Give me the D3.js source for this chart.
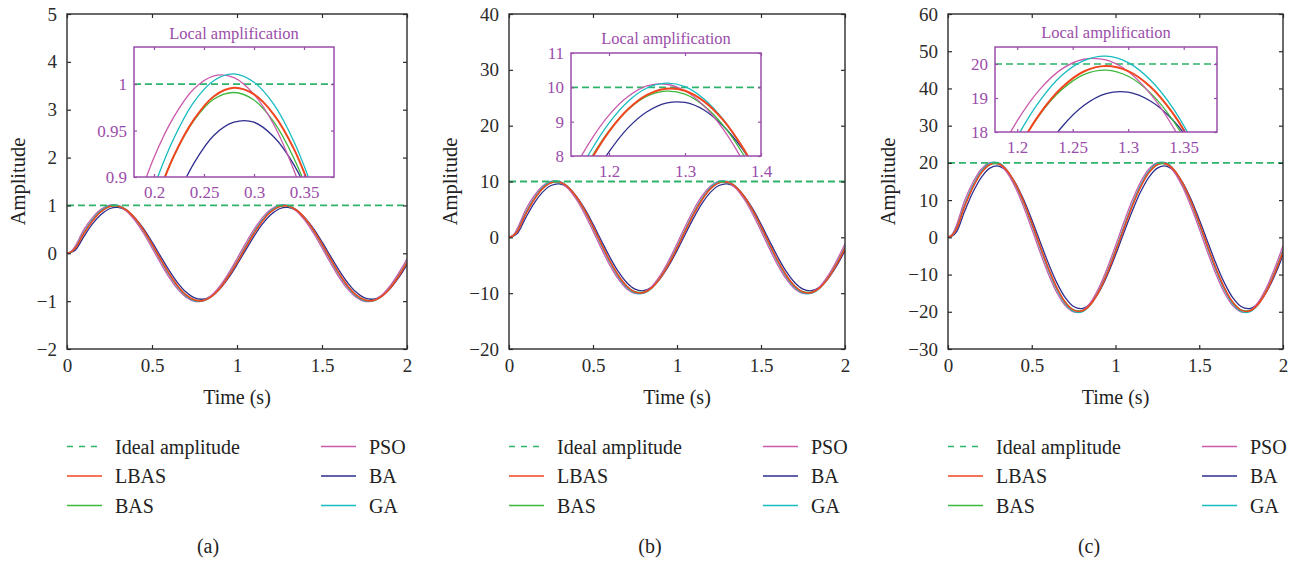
<!DOCTYPE html>
<html>
<head>
<meta charset="utf-8">
<script src="https://cdn.jsdelivr.net/npm/d3@7"></script>
<style>
  body { margin: 0; background: #fff; }
  svg { display: block; font-family: 'Liberation Serif', 'Times New Roman', serif; }
  svg text { font-family: 'Liberation Serif', 'Times New Roman', serif; }
</style>
</head>
<body>
<svg id="chart"></svg>
<script>
// time samples (s) for the main curves (an extra one near the start for the onset)
const time = [0, 0.025, 0.05, 0.1, 0.15, 0.2, 0.25, 0.3, 0.35, 0.4, 0.45, 0.5, 0.55, 0.6, 0.65, 0.7, 0.75, 0.8, 0.85, 0.9, 0.95,
    1, 1.05, 1.1, 1.15, 1.2, 1.25, 1.3, 1.35, 1.4, 1.45, 1.5, 1.55, 1.6, 1.65, 1.7, 1.75, 1.8, 1.85, 1.9, 1.95, 2];

// panel (a)
const psoA = [0, 0.04, 0.16, 0.498, 0.745, 0.919, 1.004, 0.99, 0.879, 0.682, 0.419, 0.114, -0.202, -0.498, -0.745, -0.919, -1.004, -0.99, -0.879, -0.682, -0.419, -0.114,
    0.202, 0.498, 0.745, 0.919, 1.004, 0.99, 0.879, 0.682, 0.419, 0.114, -0.202, -0.498, -0.745, -0.919, -1.004, -0.99, -0.879, -0.682, -0.419, -0.114];
const gaA = [0, 0.03, 0.12, 0.442, 0.701, 0.892, 0.995, 1.001, 0.909, 0.728, 0.476, 0.177, -0.139, -0.442, -0.701, -0.892, -0.995, -1.001, -0.909, -0.728, -0.476, -0.177,
    0.139, 0.442, 0.701, 0.892, 0.995, 1.001, 0.909, 0.728, 0.476, 0.177, -0.139, -0.442, -0.701, -0.892, -0.995, -1.001, -0.909, -0.728, -0.476, -0.177];
const lbasA = [0, 0.03, 0.11, 0.418, 0.677, 0.87, 0.977, 0.989, 0.904, 0.73, 0.485, 0.193, -0.119, -0.418, -0.677, -0.87, -0.977, -0.989, -0.904, -0.73, -0.485, -0.193,
    0.119, 0.418, 0.677, 0.87, 0.977, 0.989, 0.904, 0.73, 0.485, 0.193, -0.119, -0.418, -0.677, -0.87, -0.977, -0.989, -0.904, -0.73, -0.485, -0.193];
const basA = [0, 0.03, 0.12, 0.428, 0.683, 0.871, 0.975, 0.982, 0.894, 0.718, 0.472, 0.18, -0.13, -0.428, -0.683, -0.871, -0.975, -0.982, -0.894, -0.718, -0.472, -0.18,
    0.13, 0.428, 0.683, 0.871, 0.975, 0.982, 0.894, 0.718, 0.472, 0.18, -0.13, -0.428, -0.683, -0.871, -0.975, -0.982, -0.894, -0.718, -0.472, -0.18];
const baA = [0, 0.02, 0.07, 0.354, 0.613, 0.811, 0.931, 0.959, 0.894, 0.74, 0.515, 0.239, -0.06, -0.354, -0.613, -0.811, -0.931, -0.959, -0.894, -0.74, -0.515, -0.239,
    0.06, 0.354, 0.613, 0.811, 0.931, 0.959, 0.894, 0.74, 0.515, 0.239, -0.06, -0.354, -0.613, -0.811, -0.931, -0.959, -0.894, -0.74, -0.515, -0.239];

// panel (b)
const psoB = [0, 0.4, 1.6, 4.98, 7.45, 9.19, 10.04, 9.9, 8.79, 6.82, 4.19, 1.14, -2.02, -4.98, -7.45, -9.19, -10.04, -9.9, -8.79, -6.82, -4.19, -1.14,
    2.02, 4.98, 7.45, 9.19, 10.04, 9.9, 8.79, 6.82, 4.19, 1.14, -2.02, -4.98, -7.45, -9.19, -10.04, -9.9, -8.79, -6.82, -4.19, -1.14];
const gaB = [0, 0.3, 1.2, 4.42, 7.02, 8.93, 9.96, 10.02, 9.1, 7.29, 4.76, 1.77, -1.39, -4.42, -7.02, -8.93, -9.96, -10.02, -9.1, -7.29, -4.76, -1.77,
    1.39, 4.42, 7.02, 8.93, 9.96, 10.02, 9.1, 7.29, 4.76, 1.77, -1.39, -4.42, -7.02, -8.93, -9.96, -10.02, -9.1, -7.29, -4.76, -1.77];
const lbasB = [0, 0.3, 1.1, 4.19, 6.78, 8.71, 9.78, 9.9, 9.05, 7.31, 4.86, 1.93, -1.19, -4.19, -6.78, -8.71, -9.78, -9.9, -9.05, -7.31, -4.86, -1.93,
    1.19, 4.19, 6.78, 8.71, 9.78, 9.9, 9.05, 7.31, 4.86, 1.93, -1.19, -4.19, -6.78, -8.71, -9.78, -9.9, -9.05, -7.31, -4.86, -1.93];
const basB = [0, 0.3, 1.2, 4.27, 6.82, 8.7, 9.73, 9.8, 8.92, 7.17, 4.71, 1.79, -1.3, -4.27, -6.82, -8.7, -9.73, -9.8, -8.92, -7.17, -4.71, -1.79,
    1.3, 4.27, 6.82, 8.7, 9.73, 9.8, 8.92, 7.17, 4.71, 1.79, -1.3, -4.27, -6.82, -8.7, -9.73, -9.8, -8.92, -7.17, -4.71, -1.79];
const baB = [0, 0.2, 0.7, 3.53, 6.11, 8.09, 9.28, 9.56, 8.91, 7.38, 5.13, 2.38, -0.6, -3.53, -6.11, -8.09, -9.28, -9.56, -8.91, -7.38, -5.13, -2.38,
    0.6, 3.53, 6.11, 8.09, 9.28, 9.56, 8.91, 7.38, 5.13, 2.38, -0.6, -3.53, -6.11, -8.09, -9.28, -9.56, -8.91, -7.38, -5.13, -2.38];

// panel (c)
const psoC = [0, 0.8, 3.2, 9.94, 14.88, 18.36, 20.04, 19.77, 17.55, 13.62, 8.36, 2.28, -4.03, -9.94, -14.88, -18.36, -20.04, -19.77, -17.55, -13.62, -8.36, -2.28,
    4.03, 9.94, 14.88, 18.36, 20.04, 19.77, 17.55, 13.62, 8.36, 2.28, -4.03, -9.94, -14.88, -18.36, -20.04, -19.77, -17.55, -13.62, -8.36, -2.28];
const gaC = [0, 0.6, 2.4, 8.84, 14.03, 17.85, 19.92, 20.04, 18.2, 14.57, 9.52, 3.54, -2.79, -8.84, -14.03, -17.85, -19.92, -20.04, -18.2, -14.57, -9.52, -3.54,
    2.79, 8.84, 14.03, 17.85, 19.92, 20.04, 18.2, 14.57, 9.52, 3.54, -2.79, -8.84, -14.03, -17.85, -19.92, -20.04, -18.2, -14.57, -9.52, -3.54];
const lbasC = [0, 0.6, 2.2, 8.38, 13.56, 17.41, 19.56, 19.8, 18.09, 14.62, 9.71, 3.86, -2.37, -8.38, -13.56, -17.41, -19.56, -19.8, -18.09, -14.62, -9.71, -3.86,
    2.37, 8.38, 13.56, 17.41, 19.56, 19.8, 18.09, 14.62, 9.71, 3.86, -2.37, -8.38, -13.56, -17.41, -19.56, -19.8, -18.09, -14.62, -9.71, -3.86];
const basC = [0, 0.6, 2.4, 8.55, 13.66, 17.43, 19.49, 19.65, 17.88, 14.36, 9.44, 3.59, -2.61, -8.55, -13.66, -17.43, -19.49, -19.65, -17.88, -14.36, -9.44, -3.59,
    2.61, 8.55, 13.66, 17.43, 19.49, 19.65, 17.88, 14.36, 9.44, 3.59, -2.61, -8.55, -13.66, -17.43, -19.49, -19.65, -17.88, -14.36, -9.44, -3.59];
const baC = [0, 0.4, 1.4, 7.06, 12.23, 16.2, 18.59, 19.15, 17.84, 14.79, 10.28, 4.77, -1.21, -7.06, -12.23, -16.2, -18.59, -19.15, -17.84, -14.79, -10.28, -4.77,
    1.21, 7.06, 12.23, 16.2, 18.59, 19.15, 17.84, 14.79, 10.28, 4.77, -1.21, -7.06, -12.23, -16.2, -18.59, -19.15, -17.84, -14.79, -10.28, -4.77];

// "Local amplification" insets
const insetTimeA = [0.18, 0.2, 0.22, 0.24, 0.26, 0.28, 0.3, 0.32, 0.34, 0.36, 0.38];
const psoInA = [0.861, 0.921, 0.965, 0.995, 1.009, 1.007, 0.989, 0.956, 0.907, 0.844, 0.768];
const gaInA = [0.822, 0.889, 0.942, 0.981, 1.004, 1.011, 1.002, 0.978, 0.938, 0.883, 0.814];
const lbasInA = [0.8, 0.868, 0.923, 0.962, 0.987, 0.996, 0.989, 0.967, 0.93, 0.877, 0.811];
const basInA = [0.804, 0.87, 0.923, 0.961, 0.984, 0.991, 0.983, 0.959, 0.92, 0.867, 0.8];
const baInA = [0.742, 0.813, 0.871, 0.915, 0.945, 0.959, 0.959, 0.943, 0.913, 0.868, 0.81];

const insetTimeB = [1.15, 1.175, 1.2, 1.225, 1.25, 1.275, 1.3, 1.325, 1.35, 1.375, 1.4];
const psoInB = [7.45, 8.42, 9.19, 9.73, 10.04, 10.09, 9.9, 9.46, 8.79, 7.9, 6.82];
const gaInB = [7.07, 8.11, 8.96, 9.59, 9.98, 10.12, 10.02, 9.66, 9.07, 8.26, 7.25];
const lbasInB = [6.78, 7.84, 8.71, 9.36, 9.78, 9.96, 9.9, 9.59, 9.05, 8.28, 7.31];
const basInB = [6.86, 7.89, 8.73, 9.35, 9.74, 9.89, 9.8, 9.46, 8.9, 8.11, 7.12];
const baInB = [6.15, 7.23, 8.12, 8.82, 9.29, 9.54, 9.56, 9.34, 8.88, 8.22, 7.34];

const insetTimeC = [1.18, 1.2, 1.22, 1.24, 1.26, 1.28, 1.3, 1.32, 1.34, 1.36, 1.38];
const psoInC = [17.13, 18.33, 19.24, 19.85, 20.14, 20.12, 19.78, 19.12, 18.17, 16.93, 15.42];
const gaInC = [16.51, 17.85, 18.9, 19.66, 20.1, 20.23, 20.04, 19.53, 18.72, 17.6, 16.22];
const lbasInC = [16.09, 17.44, 18.52, 19.3, 19.78, 19.94, 19.79, 19.33, 18.56, 17.5, 16.17];
const basInC = [16.14, 17.46, 18.5, 19.24, 19.69, 19.82, 19.64, 19.15, 18.36, 17.28, 15.92];
const baInC = [14.55, 16.01, 17.21, 18.14, 18.78, 19.13, 19.17, 18.91, 18.36, 17.52, 16.39];

const idealAmp = [1, 10, 20];
const captions = ['(a)', '(b)', '(c)'];
const xTicks = [0, 0.5, 1, 1.5, 2];
const yTicksA = [-2, -1, 0, 1, 2, 3, 4, 5];
const yTicksB = [-20, -10, 0, 10, 20, 30, 40];
const yTicksC = [-30, -20, -10, 0, 10, 20, 30, 40, 50, 60];
const insetXTicksA = [0.2, 0.25, 0.3, 0.35];
const insetYTicksA = [0.9, 0.95, 1];
const insetXTicksB = [1.2, 1.3, 1.4];
const insetYTicksB = [8, 9, 10, 11];
const insetXTicksC = [1.2, 1.25, 1.3, 1.35];
const insetYTicksC = [18, 19, 20];

const seriesNames = ['BA', 'BAS', 'PSO', 'GA', 'LBAS']; // draw order, LBAS on top
const colors = { Ideal: '#2eb36a', LBAS: '#f2461f', BAS: '#3cb83c', PSO: '#c95aac', BA: '#2e2e8e', GA: '#16bcc0' };
const purple = '#9b4dab';
const axisColor = '#2b2b2b';
const serif = "'Liberation Serif', 'Times New Roman', serif";

const panelData = [
    { main: { PSO: psoA, GA: gaA, LBAS: lbasA, BAS: basA, BA: baA }, inT: insetTimeA,
      inset: { PSO: psoInA, GA: gaInA, LBAS: lbasInA, BAS: basInA, BA: baInA } },
    { main: { PSO: psoB, GA: gaB, LBAS: lbasB, BAS: basB, BA: baB }, inT: insetTimeB,
      inset: { PSO: psoInB, GA: gaInB, LBAS: lbasInB, BAS: basInB, BA: baInB } },
    { main: { PSO: psoC, GA: gaC, LBAS: lbasC, BAS: basC, BA: baC }, inT: insetTimeC,
      inset: { PSO: psoInC, GA: gaInC, LBAS: lbasInC, BAS: basInC, BA: baInC } },
];

// layout of each panel (pixels)
const layout = [
    { left: 67, right: 407, yDomain: [-2, 5], yTicks: yTicksA, ylabelX: 18,
      inset: { left: 134, right: 334, top: 47, bottom: 177, titleY: 33, xDomain: [0.18, 0.38], yDomain: [0.9, 1.04], xTicks: insetXTicksA, yTicks: insetYTicksA } },
    { left: 509, right: 845, yDomain: [-20, 40], yTicks: yTicksB, ylabelX: 450,
      inset: { left: 571, right: 761, top: 53, bottom: 156, titleY: 38, xDomain: [1.15, 1.4], yDomain: [8, 11], xTicks: insetXTicksB, yTicks: insetYTicksB } },
    { left: 948, right: 1283, yDomain: [-30, 60], yTicks: yTicksC, ylabelX: 888,
      inset: { left: 995, right: 1217, top: 47, bottom: 132, titleY: 32, xDomain: [1.18, 1.38], yDomain: [18, 20.5], xTicks: insetXTicksC, yTicks: insetYTicksC } },
];

const plotTop = 14, plotBottom = 349;
const fmt = d3.format('~g');

const svg = d3.select('#chart').attr('width', 1299).attr('height', 561);
svg.append('rect').attr('width', 1299).attr('height', 561).attr('fill', '#fff');
const defs = svg.append('defs');

function styleAxis(sel, color, size) {
    // d3 puts sans-serif on the axis group, use the serif face instead
    sel.attr('font-family', serif).attr('font-size', size);
    sel.select('.domain').remove();
    sel.selectAll('.tick line').attr('stroke', color).attr('stroke-width', 1.2);
    sel.selectAll('.tick text').attr('fill', color)
        .style('font-family', serif).style('font-size', size + 'px');
}

layout.forEach((p, i) => {
    const d = panelData[i];
    const x = d3.scaleLinear().domain([0, 2]).range([p.left, p.right]);
    const y = d3.scaleLinear().domain(p.yDomain).range([plotBottom, plotTop]);
    const g = svg.append('g');

    defs.append('clipPath').attr('id', 'clip-main-' + i)
        .append('rect').attr('x', p.left).attr('y', plotTop).attr('width', p.right - p.left).attr('height', plotBottom - plotTop);

    const curves = g.append('g').attr('clip-path', `url(#clip-main-${i})`);
    const line = d3.line().x((v, j) => x(time[j])).y((v) => y(v)).curve(d3.curveCatmullRom);
    seriesNames.forEach((s) => {
        curves.append('path').attr('d', line(d.main[s]))
            .attr('fill', 'none').attr('stroke', colors[s]).attr('stroke-width', s === 'LBAS' ? 1.6 : 1.3);
    });
    curves.append('line').attr('x1', x(0)).attr('x2', x(2)).attr('y1', y(idealAmp[i])).attr('y2', y(idealAmp[i]))
        .attr('stroke', colors.Ideal).attr('stroke-width', 1.8).attr('stroke-dasharray', '7,4');

    // axes, ticks pointing inward on all four sides
    g.append('g').attr('transform', `translate(0,${plotBottom})`)
        .call(d3.axisBottom(x).tickValues(xTicks).tickSize(-4).tickPadding(10).tickFormat(fmt))
        .call(styleAxis, axisColor, 19);
    g.append('g').attr('transform', `translate(0,${plotTop})`)
        .call(d3.axisTop(x).tickValues(xTicks).tickSize(-4).tickFormat(''))
        .call(styleAxis, axisColor, 19);
    g.append('g').attr('transform', `translate(${p.left},0)`)
        .call(d3.axisLeft(y).tickValues(p.yTicks).tickSize(-4).tickPadding(10).tickFormat(fmt))
        .call(styleAxis, axisColor, 19);
    g.append('g').attr('transform', `translate(${p.right},0)`)
        .call(d3.axisRight(y).tickValues(p.yTicks).tickSize(-4).tickFormat(''))
        .call(styleAxis, axisColor, 19);
    g.append('rect').attr('x', p.left).attr('y', plotTop).attr('width', p.right - p.left).attr('height', plotBottom - plotTop)
        .attr('fill', 'none').attr('stroke', axisColor).attr('stroke-width', 1.4);

    g.append('text').attr('x', (p.left + p.right) / 2).attr('y', 404).attr('text-anchor', 'middle')
        .style('font-size', '20px').attr('fill', '#222').text('Time (s)');
    g.append('text').attr('transform', `translate(${p.ylabelX},${(plotTop + plotBottom) / 2}) rotate(-90)`)
        .attr('dy', '0.35em').attr('text-anchor', 'middle')
        .style('font-size', '20.5px').attr('fill', '#222').text('Amplitude');

    // inset
    const b = p.inset;
    const xi = d3.scaleLinear().domain(b.xDomain).range([b.left, b.right]);
    const yi = d3.scaleLinear().domain(b.yDomain).range([b.bottom, b.top]);
    const gi = g.append('g');
    gi.append('rect').attr('x', b.left).attr('y', b.top).attr('width', b.right - b.left).attr('height', b.bottom - b.top)
        .attr('fill', '#fff');
    defs.append('clipPath').attr('id', 'clip-in-' + i)
        .append('rect').attr('x', b.left).attr('y', b.top).attr('width', b.right - b.left).attr('height', b.bottom - b.top);
    const inCurves = gi.append('g').attr('clip-path', `url(#clip-in-${i})`);
    const inLine = d3.line().x((v, j) => xi(d.inT[j])).y((v) => yi(v)).curve(d3.curveCatmullRom);
    inCurves.append('line').attr('x1', b.left).attr('x2', b.right).attr('y1', yi(idealAmp[i])).attr('y2', yi(idealAmp[i]))
        .attr('stroke', colors.Ideal).attr('stroke-width', 1.6).attr('stroke-dasharray', '7,4');
    seriesNames.forEach((s) => {
        inCurves.append('path').attr('d', inLine(d.inset[s]))
            .attr('fill', 'none').attr('stroke', colors[s]).attr('stroke-width', s === 'LBAS' ? 2 : 1.3);
    });
    gi.append('g').attr('transform', `translate(0,${b.bottom})`)
        .call(d3.axisBottom(xi).tickValues(b.xTicks).tickSize(-3).tickPadding(8.5).tickFormat(fmt))
        .call(styleAxis, purple, 17);
    gi.append('g').attr('transform', `translate(0,${b.top})`)
        .call(d3.axisTop(xi).tickValues(b.xTicks).tickSize(-3).tickFormat(''))
        .call(styleAxis, purple, 17);
    gi.append('g').attr('transform', `translate(${b.left},0)`)
        .call(d3.axisLeft(yi).tickValues(b.yTicks).tickSize(-3).tickPadding(7).tickFormat(fmt))
        .call(styleAxis, purple, 17);
    gi.append('g').attr('transform', `translate(${b.right},0)`)
        .call(d3.axisRight(yi).tickValues(b.yTicks).tickSize(-3).tickFormat(''))
        .call(styleAxis, purple, 17);
    gi.append('rect').attr('x', b.left).attr('y', b.top).attr('width', b.right - b.left).attr('height', b.bottom - b.top)
        .attr('fill', 'none').attr('stroke', purple).attr('stroke-width', 1.5);
    gi.append('text').attr('x', (b.left + b.right) / 2).attr('y', b.titleY).attr('dy', '0.35em').attr('text-anchor', 'middle')
        .style('font-size', '16.5px').attr('fill', purple).text('Local amplification');

    // legend, two columns of three
    const legendItems = [
        { name: 'Ideal amplitude', key: 'Ideal', col: 0, row: 0 },
        { name: 'LBAS', key: 'LBAS', col: 0, row: 1 },
        { name: 'BAS', key: 'BAS', col: 0, row: 2 },
        { name: 'PSO', key: 'PSO', col: 1, row: 0 },
        { name: 'BA', key: 'BA', col: 1, row: 1 },
        { name: 'GA', key: 'GA', col: 1, row: 2 },
    ];
    const lg = g.append('g');
    legendItems.forEach((it) => {
        const lx = p.left + it.col * 254;
        const ly = 446.5 + it.row * 29.5;
        lg.append('line').attr('x1', lx).attr('x2', lx + 35).attr('y1', ly).attr('y2', ly)
            .attr('stroke', colors[it.key]).attr('stroke-width', 1.6)
            .attr('stroke-dasharray', it.key === 'Ideal' ? '6,6' : null);
        lg.append('text').attr('x', lx + 48).attr('y', ly).attr('dy', '0.35em')
            .style('font-size', '20px').attr('fill', '#222').text(it.name);
    });

    g.append('text').attr('x', p.left + 141).attr('y', 546).attr('dy', '0.35em').attr('text-anchor', 'middle')
        .style('font-size', '20px').attr('fill', '#222').text(captions[i]);
});
</script>
</body>
</html>
